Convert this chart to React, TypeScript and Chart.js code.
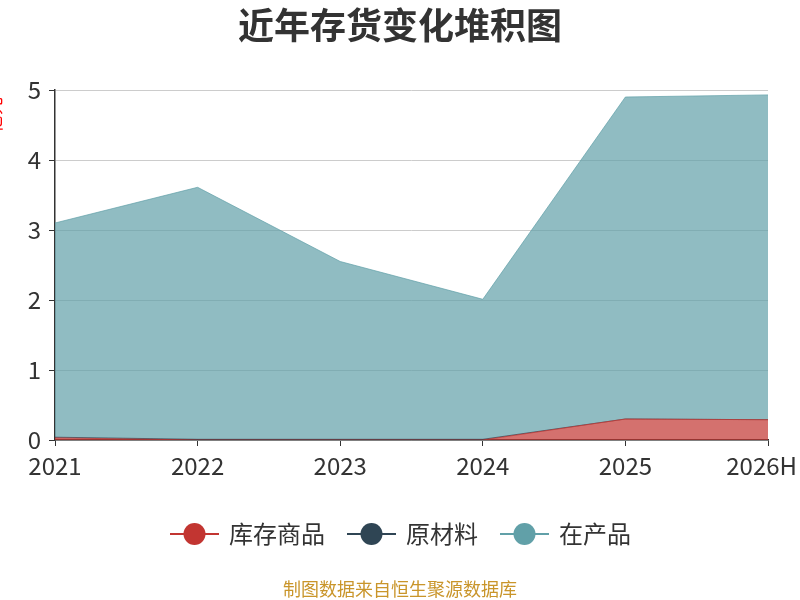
import React, { useEffect, useRef } from "react";
import { Chart, registerables } from "chart.js";

Chart.register(...registerables);

const years = ["2021", "2022", "2023", "2024", "2025", "2026H"];
const goodsValues = [0.03, 0, 0, 0, 0.3, 0.29];
const rawValues = [0.01, 0.01, 0.01, 0.01, 0, 0];
const wipValues = [3.06, 3.6, 2.54, 2.0, 4.6, 4.64];
const seriesNames = ["库存商品", "原材料", "在产品"];
const seriesColors = ["#c23531", "#2f4554", "#61a0a8"];
const titleText = "近年存货变化堆积图";
const unitText = "亿元";
const sourceText = "制图数据来自恒生聚源数据库";

const FONT = "'Noto Sans CJK SC', 'Noto Sans', sans-serif";

const rgba = (hex: string, a: number) => {
    const n = parseInt(hex.slice(1), 16);
    return `rgba(${(n >> 16) & 255}, ${(n >> 8) & 255}, ${n & 255}, ${a})`;
};

// title, unit label, legend and source note
const decorPlugin = {
    id: "decor",
    beforeDraw(chart: Chart) {
        // keep the last x label inside the canvas
        const items = (chart.scales.x as any).getLabelItems();
        const last = items[items.length - 1];
        if (last) {
            last.options.textAlign = "right";
            last.options.translation = [797, last.options.translation[1]];
        }
    },
    afterDraw(chart: Chart) {
        const ctx = chart.ctx;
        ctx.save();
        ctx.fillStyle = "#333";
        ctx.font = `bold 36px ${FONT}`;
        ctx.textAlign = "center";
        ctx.textBaseline = "middle";
        ctx.fillText(titleText, 400, 25);

        ctx.save();
        ctx.translate(-6, 115);
        ctx.rotate(-Math.PI / 2);
        ctx.fillStyle = "#ff0000";
        ctx.font = `18px ${FONT}`;
        ctx.fillText(unitText, 0, 0);
        ctx.restore();

        const y = 534;
        let x = 170;
        ctx.font = `24px ${FONT}`;
        ctx.textAlign = "left";
        chart.data.datasets.forEach((ds, i) => {
            const c = seriesColors[i];
            ctx.strokeStyle = c;
            ctx.lineWidth = 2;
            ctx.beginPath();
            ctx.moveTo(x, y);
            ctx.lineTo(x + 49, y);
            ctx.stroke();
            ctx.fillStyle = c;
            ctx.beginPath();
            ctx.arc(x + 24.5, y, 11, 0, Math.PI * 2);
            ctx.fill();
            ctx.fillStyle = "#333";
            const label = String(ds.label);
            ctx.fillText(label, x + 59, y);
            x += 59 + ctx.measureText(label).width + 22;
        });

        ctx.fillStyle = "#c9952a";
        ctx.font = `18px ${FONT}`;
        ctx.textAlign = "center";
        ctx.fillText(sourceText, 400, 589);
        ctx.restore();
    },
};

const App: React.FC = () => {
    const chartRef = useRef<HTMLCanvasElement>(null);
    const chartInstanceRef = useRef<Chart | null>(null);

    useEffect(() => {
        document.body.style.margin = "0";
        if (!chartRef.current) return;
        const ctx = chartRef.current.getContext("2d");
        if (!ctx) return;
        if (chartInstanceRef.current) chartInstanceRef.current.destroy();

        const values = [goodsValues, rawValues, wipValues];
        chartInstanceRef.current = new Chart(ctx, {
            type: "line",
            data: {
                labels: years,
                datasets: values.map((v, i) => ({
                    label: seriesNames[i],
                    data: v,
                    borderColor: rgba(seriesColors[i], 0.7),
                    backgroundColor: rgba(seriesColors[i], 0.7),
                    borderWidth: 1,
                    pointRadius: 0,
                    tension: 0,
                    fill: i === 0 ? "origin" : "-1",
                })),
            },
            options: {
                responsive: false,
                animation: false,
                layout: { padding: { top: 90, right: 32, bottom: 110, left: 0 } },
                plugins: {
                    legend: { display: false },
                    tooltip: { enabled: false },
                },
                scales: {
                    x: {
                        offset: false,
                        afterFit: (s: any) => {
                            s.height = 50;
                            s.paddingLeft = 0;
                            s.paddingRight = 0;
                        },
                        grid: {
                            drawOnChartArea: false,
                            color: "#333",
                            tickColor: "#333",
                            tickLength: 6,
                        },
                        border: { color: "#333", width: 1.5 },
                        ticks: {
                            color: "#333",
                            padding: 5,
                            maxRotation: 0,
                            font: { size: 24, family: FONT },
                        },
                    },
                    y: {
                        stacked: true,
                        min: 0,
                        max: 5,
                        afterFit: (s: any) => { s.width = 55; },
                        grid: {
                            color: "#ccc",
                            tickColor: "#333",
                            tickLength: 6,
                        },
                        border: { color: "#333", width: 1.5 },
                        ticks: {
                            stepSize: 1,
                            color: "#333",
                            padding: 8,
                            font: { size: 24, family: FONT },
                        },
                    },
                },
            },
            plugins: [decorPlugin],
        });

        return () => {
            if (chartInstanceRef.current) {
                chartInstanceRef.current.destroy();
                chartInstanceRef.current = null;
            }
        };
    }, []);

    return <canvas ref={chartRef} width={800} height={600} style={{ display: "block" }} />;
};

export default App;
